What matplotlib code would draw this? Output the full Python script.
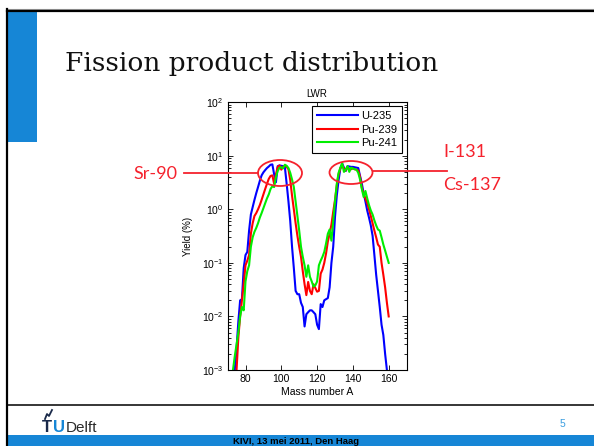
#!/usr/bin/env python3
# -*- coding: utf-8 -*-
"""
Fission product distribution slide - LWR yields for U-235, Pu-239, Pu-241
"""

import matplotlib
matplotlib.use("Agg")
import matplotlib.pyplot as plt
from matplotlib.patches import Rectangle, Ellipse
from matplotlib.lines import Line2D

# Mass numbers and yields (%)
mass_u235 = list(range(74, 160))
yield_u235 = [0.001, 0.0025, 0.008, 0.02, 0.021, 0.08, 0.14, 0.16, 0.4, 0.8,
              1.1, 1.5, 2.0, 2.6, 3.4, 4.3, 4.9, 5.4, 5.9, 6.3,
              6.8, 6.9, 4.5, 3.2, 6.4, 6.6, 6.5, 6.4, 6.1, 3.0,
              1.4, 0.6, 0.2, 0.08, 0.03, 0.026, 0.026, 0.018, 0.015, 0.0065,
              0.011, 0.012, 0.013, 0.013, 0.012, 0.011, 0.007, 0.0058, 0.017, 0.015,
              0.02, 0.021, 0.022, 0.035, 0.1, 0.2, 0.72, 1.8, 3.5, 5.8,
              7.2, 6.0, 5.2, 6.4, 6.3, 6.2, 6.2, 6.1, 6.0, 5.9,
              4.2, 3.0, 2.0, 1.4, 0.95, 0.7, 0.5, 0.32, 0.14, 0.06,
              0.03, 0.015, 0.007, 0.0045, 0.002, 0.001]

mass_pu239 = list(range(75, 161))
yield_pu239 = [0.001, 0.004, 0.01, 0.02, 0.04, 0.09, 0.11, 0.14, 0.35, 0.55,
               0.75, 0.85, 1.0, 1.2, 1.5, 1.9, 2.4, 3.0, 3.7, 4.2,
               4.3, 3.0, 4.5, 6.2, 6.6, 5.5, 6.2, 6.6, 6.2, 5.6,
               3.5, 1.8, 1.0, 0.55, 0.32, 0.2, 0.13, 0.07, 0.04, 0.025,
               0.044, 0.03, 0.026, 0.04, 0.034, 0.029, 0.03, 0.063, 0.075, 0.1,
               0.15, 0.25, 0.35, 0.52, 0.9, 1.5, 2.8, 4.5, 5.8, 6.6,
               5.8, 5.3, 6.2, 5.6, 5.6, 5.8, 5.6, 5.5, 5.3, 4.0,
               2.5, 1.9, 1.6, 1.3, 1.0, 0.75, 0.55, 0.4, 0.3, 0.22,
               0.2, 0.1, 0.06, 0.035, 0.018, 0.01]

mass_pu241 = list(range(73, 161))
yield_pu241 = [0.001, 0.0018, 0.003, 0.005, 0.01, 0.015, 0.013, 0.045, 0.07, 0.09,
               0.2, 0.3, 0.38, 0.45, 0.55, 0.7, 0.85, 1.05, 1.3, 1.6,
               1.9, 2.4, 2.7, 2.6, 4.0, 5.2, 6.0, 6.1, 5.8, 6.8,
               6.5, 5.9, 4.8, 3.6, 2.6, 1.4, 0.75, 0.4, 0.2, 0.13,
               0.09, 0.055, 0.09, 0.055, 0.045, 0.036, 0.038, 0.045, 0.09, 0.11,
               0.13, 0.16, 0.23, 0.35, 0.42, 0.26, 0.6, 1.4, 3.0, 4.8,
               6.0, 7.2, 5.0, 5.5, 6.4, 5.0, 6.0, 5.8, 5.6, 5.5,
               4.8, 3.6, 2.4, 1.7, 2.2, 1.6, 1.2, 0.95, 0.8, 0.62,
               0.5, 0.42, 0.4, 0.3, 0.22, 0.17, 0.13, 0.1]

series_labels = ["U-235", "Pu-239", "Pu-241"]
series_colors = ["#0000ff", "#ff0000", "#00ee00"]

x_ticks = [80, 100, 120, 140, 160]

SLIDE_BLUE = "#1686d6"
NOTE_RED = "#f5222d"

W, H = 594, 446


def create_slide():
    fig = plt.figure(figsize=(W / 100, H / 100), dpi=100)
    fig.patch.set_facecolor("white")

    # --- chart ---
    ax = fig.add_axes([227.6 / W, 1 - 370 / H, 179 / W, 267.8 / H])
    axis_font = ["Liberation Sans", "DejaVu Sans"]
    for m, y, lab, col in zip([mass_u235, mass_pu239, mass_pu241],
                              [yield_u235, yield_pu239, yield_pu241],
                              series_labels, series_colors):
        ax.plot(m, y, color=col, linewidth=1.5, label=lab)

    ax.set_yscale("log")
    ax.set_xlim(70, 170)
    ax.set_ylim(1e-3, 1e2)
    ax.set_xticks(x_ticks)
    ax.tick_params(which="both", direction="in", top=True, right=True,
                   labelsize=7.5, width=0.6)
    ax.tick_params(which="major", length=3.5, pad=3)
    ax.tick_params(which="minor", length=2)
    ax.tick_params(axis="x", which="minor", bottom=False, top=False)
    for lbl in ax.get_xticklabels() + ax.get_yticklabels():
        lbl.set_family(axis_font)
    for sp in ax.spines.values():
        sp.set_linewidth(0.8)

    ax.set_title("LWR", fontsize=7, family=axis_font, pad=4)
    ax.set_xlabel("Mass number A", fontsize=7.5, family=axis_font, labelpad=2)
    ax.set_ylabel("Yield (%)", fontsize=7, family=axis_font, labelpad=6)

    leg = ax.legend(loc="upper right", bbox_to_anchor=(0.975, 0.985),
                    borderaxespad=0, fancybox=False, framealpha=1,
                    edgecolor="black", handlelength=3.7, handletextpad=0.3,
                    labelspacing=0.3, borderpad=0.45,
                    prop={"family": axis_font, "size": 8})
    leg.get_frame().set_linewidth(0.8)

    # --- slide decorations in pixel coordinates ---
    ov = fig.add_axes([0, 0, 1, 1], zorder=10)
    ov.set_xlim(0, W)
    ov.set_ylim(H, 0)
    ov.axis("off")
    ov.patch.set_alpha(0)

    ov.add_line(Line2D([7, W], [8.8, 8.8], color="#999999", lw=0.8))
    ov.add_line(Line2D([7, W], [10.5, 10.5], color="black", lw=1.6))
    ov.add_line(Line2D([7, 7], [9, H], color="black", lw=1.6))
    ov.add_patch(Rectangle((8, 10), 29, 132, color=SLIDE_BLUE, lw=0))
    ov.text(65, 71, "Fission product distribution", fontsize=19,
            family="DejaVu Serif", va="baseline", ha="left", color="#111111")

    ov.add_line(Line2D([7, W], [404.5, 404.5], color="black", lw=1.1))
    ov.add_patch(Rectangle((8, 435), W - 8, 11, color=SLIDE_BLUE, lw=0))
    ov.text(296, 441, "KIVI, 13 mei 2011, Den Haag", fontsize=6.8, weight="bold",
            family="Liberation Sans", ha="center", va="center", color="black")
    ov.text(562, 424, "5", fontsize=7.5, family="Liberation Sans",
            ha="center", va="center", color="#3a9ee0")
    # TU Delft logo
    ov.text(42, 432, "T", fontsize=12, weight="bold", family="Liberation Sans",
            color="#1a2a4a", va="baseline")
    ov.text(53, 432, "U", fontsize=12, weight="bold", family="Liberation Sans",
            color=SLIDE_BLUE, va="baseline")
    ov.text(66, 432, "Delft", fontsize=11, family="Liberation Sans",
            color="#2a2a2a", va="baseline")
    ov.plot([45, 47, 49, 52], [419, 414, 416, 410], color="#1a2a4a", lw=1.3)

    # annotations
    ov.add_patch(Ellipse((280, 173), 44, 26, fill=False, ec=NOTE_RED, lw=1.3))
    ov.add_patch(Ellipse((351, 172.5), 43, 23, fill=False, ec=NOTE_RED, lw=1.3))
    ov.add_line(Line2D([184, 258], [173.3, 173.3], color=NOTE_RED, lw=1.3))
    ov.add_line(Line2D([372.5, 447], [171, 171], color=NOTE_RED, lw=1.3))
    ov.text(133, 174, "Sr-90", fontsize=13, family="Lato", color=NOTE_RED,
            ha="left", va="center")
    ov.text(443, 152, "I-131", fontsize=13, family="Lato", color=NOTE_RED,
            ha="left", va="center")
    ov.text(443, 185, "Cs-137", fontsize=13, family="Lato", color=NOTE_RED,
            ha="left", va="center")

    fig.savefig("out.png", dpi=100)
    plt.close(fig)


if __name__ == "__main__":
    create_slide()
